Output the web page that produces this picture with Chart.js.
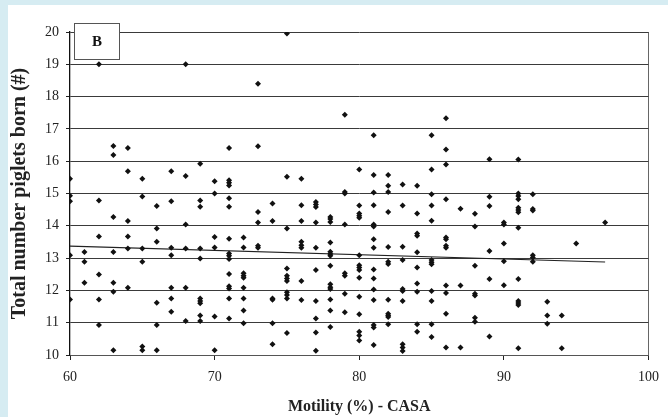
<!DOCTYPE html>
<html lang="en">
<head>
    <meta charset="UTF-8">
    <title>Total number piglets born vs Motility</title>
    <script src="https://cdn.jsdelivr.net/npm/chart.js@4.4.1/dist/chart.umd.min.js"></script>
    <style>
        body { margin: 0; background: #d6ecf2; width: 668px; height: 417px; overflow: hidden; }
        #box { position: absolute; left: 8px; top: 5px; width: 660px; height: 412px; background: #fff; }
    </style>
</head>
<body>
<div id="box">
    <canvas id="chart_scatter" width="660" height="412"></canvas>
</div>

<script>
// motility (%) columns and the piglet totals read at each one
const motility = [60, 61, 62, 63, 64, 65, 66, 67, 68, 69, 70, 71, 72, 73, 74, 75, 76, 77, 78,
                  79, 80, 81, 82, 83, 84, 85, 86, 87, 88, 89, 90, 91, 92, 93, 94, 95, 97];
const piglets = [
    [15.46, 14.93, 14.76, 13.09, 11.72],
    [13.19, 12.89, 12.24],
    [19.0, 14.78, 13.67, 12.49, 11.72, 10.93],
    [16.47, 16.19, 14.27, 13.19, 12.24, 11.96, 10.15],
    [16.41, 15.69, 14.15, 13.67, 13.30, 12.08],
    [15.46, 14.91, 13.30, 12.89, 10.26, 10.15],
    [14.61, 13.92, 13.51, 11.62, 10.93, 10.15],
    [15.69, 14.76, 13.32, 13.09, 12.08, 11.75, 11.34],
    [19.0, 15.54, 14.04, 13.30, 12.08, 11.05],
    [15.92, 14.78, 14.59, 13.30, 12.99, 11.75, 11.67, 11.60, 11.22, 11.05],
    [15.38, 15.0, 13.65, 13.33, 11.19, 10.15],
    [16.41, 15.41, 15.33, 15.25, 14.85, 14.59, 13.60, 13.14, 13.07, 12.97, 12.51, 12.13, 12.06, 11.75, 11.13],
    [13.64, 13.33, 12.53, 12.45, 12.39, 12.08, 11.75, 11.38, 10.98],
    [18.40, 16.46, 14.43, 14.10, 13.38, 13.32],
    [14.69, 14.15, 11.75, 11.71, 10.98, 10.33],
    [19.95, 15.52, 13.92, 12.68, 12.45, 12.37, 12.29, 11.94, 11.86, 11.75, 10.68],
    [15.46, 14.64, 14.15, 13.51, 13.40, 13.32, 12.29, 11.70],
    [14.74, 14.66, 14.58, 14.10, 13.32, 12.63, 11.67, 11.13, 10.70, 10.13],
    [14.27, 14.21, 14.12, 13.48, 13.20, 13.13, 13.07, 12.76, 12.19, 12.10, 12.04, 11.72, 11.38, 10.87],
    [17.44, 15.05, 15.0, 14.04, 12.53, 12.45, 11.90, 11.32],
    [15.74, 14.63, 14.38, 14.31, 14.25, 13.09, 12.78, 12.71, 12.63, 12.39, 11.80, 11.26, 10.72, 10.60, 10.45],
    [16.80, 15.57, 15.03, 14.64, 14.04, 13.98, 13.58, 13.32, 12.65, 12.37, 12.03, 11.70, 10.93, 10.85, 10.31],
    [15.57, 15.24, 15.05, 14.43, 13.34, 12.89, 12.82, 11.71, 11.28, 11.22, 11.18, 10.95],
    [15.28, 14.63, 13.35, 12.94, 12.04, 11.98, 11.67, 10.33, 10.23, 10.12],
    [15.24, 14.38, 13.76, 13.69, 13.18, 12.71, 12.21, 11.96, 10.95, 10.72],
    [16.80, 15.74, 14.98, 14.63, 14.16, 12.94, 12.87, 12.81, 11.98, 11.67, 10.95, 10.56],
    [17.33, 16.36, 15.90, 14.82, 13.64, 13.58, 13.38, 13.32, 12.15, 11.92, 11.28, 10.23],
    [14.53, 12.15, 10.23],
    [14.37, 13.98, 12.76, 11.90, 11.84, 11.15, 11.03],
    [16.06, 14.90, 14.61, 13.22, 12.35, 10.57],
    [14.10, 14.04, 13.45, 12.90, 12.16],
    [16.05, 15.0, 14.92, 14.82, 14.56, 14.49, 14.42, 13.94, 12.35, 11.67, 11.61, 11.55, 10.21],
    [14.98, 14.52, 14.47, 13.09, 13.02, 12.89],
    [11.65, 11.22, 10.97],
    [11.22, 10.21],
    [13.45],
    [14.10]
];
// linear trend
const trendX = [60, 97];
const trendY = [13.37, 12.88];

const xTicks = [60, 70, 80, 90, 100];
const yTicks = [10, 11, 12, 13, 14, 15, 16, 17, 18, 19, 20];

const serif = "'Liberation Serif', 'Times New Roman', serif";

var points = [];
motility.forEach(function (m, i) {
    piglets[i].forEach(function (p) { points.push({x: m, y: p}); });
});
var trend = trendX.map(function (x, i) { return {x: x, y: trendY[i]}; });

// the little "B" panel label
const panelLabel = {
    id: 'panelLabel',
    afterDraw: function (chart) {
        var ctx = chart.ctx;
        ctx.save();
        ctx.fillStyle = '#fff';
        ctx.fillRect(66, 18, 45, 36);
        ctx.strokeStyle = '#555';
        ctx.lineWidth = 1;
        ctx.strokeRect(66.5, 18.5, 45, 36);
        ctx.fillStyle = '#111';
        ctx.font = 'bold 15px ' + serif;
        ctx.textAlign = 'center';
        ctx.textBaseline = 'middle';
        ctx.fillText('B', 89, 37);
        ctx.restore();
    }
};

var ctx = document.getElementById('chart_scatter').getContext('2d');
var myChart = new Chart(ctx, {
    type: 'scatter',
    data: {
        datasets: [{
            label: 'Boars',
            data: points,
            pointStyle: 'rectRot',
            pointRadius: 3,
            backgroundColor: '#111',
            borderColor: '#111',
            borderWidth: 0
        }, {
            type: 'line',
            label: 'Trend',
            data: trend,
            showLine: true,
            pointRadius: 0,
            borderColor: '#222',
            borderWidth: 1.2,
            fill: false
        }]
    },
    options: {
        responsive: false,
        animation: false,
        layout: { padding: { top: 27, right: 12, left: 0, bottom: 0 } },
        plugins: {
            legend: { display: false },
            tooltip: { enabled: false }
        },
        scales: {
            x: {
                type: 'linear',
                min: 60,
                max: 100,
                afterBuildTicks: function (scale) {
                    scale.ticks = xTicks.map(function (v) { return {value: v}; });
                },
                afterFit: function (scale) { scale.height = 62; },
                ticks: {
                    color: '#222',
                    padding: 9,
                    maxRotation: 0,
                    font: { family: serif, size: 14 }
                },
                grid: {
                    drawOnChartArea: true,
                    color: function (c) { return c.tick && c.tick.value === 100 ? '#666' : 'rgba(0,0,0,0)'; },
                    tickColor: '#222',
                    tickLength: 5
                },
                border: { display: true, color: '#555', width: 1 },
                title: {
                    display: true,
                    text: 'Motility (%) - CASA',
                    color: '#222',
                    padding: { top: 0, bottom: 1 },
                    font: { family: serif, size: 16, weight: 'bold' }
                }
            },
            y: {
                type: 'linear',
                min: 10,
                max: 20,
                afterBuildTicks: function (scale) {
                    scale.ticks = yTicks.map(function (v) { return {value: v}; });
                },
                afterFit: function (scale) { scale.width = 62; },
                ticks: {
                    color: '#222',
                    padding: 7,
                    font: { family: serif, size: 14 }
                },
                grid: {
                    color: '#3a3a3a',
                    lineWidth: 1,
                    tickColor: '#222',
                    tickLength: 4
                },
                border: { display: true, color: '#111', width: 1.3 },
                title: {
                    display: true,
                    text: 'Total number piglets born (#)',
                    color: '#222',
                    padding: { top: 0, bottom: 0 },
                    font: { family: serif, size: 20, weight: 'bold' }
                }
            }
        }
    },
    plugins: [panelLabel]
});
</script>
</body>
</html>
